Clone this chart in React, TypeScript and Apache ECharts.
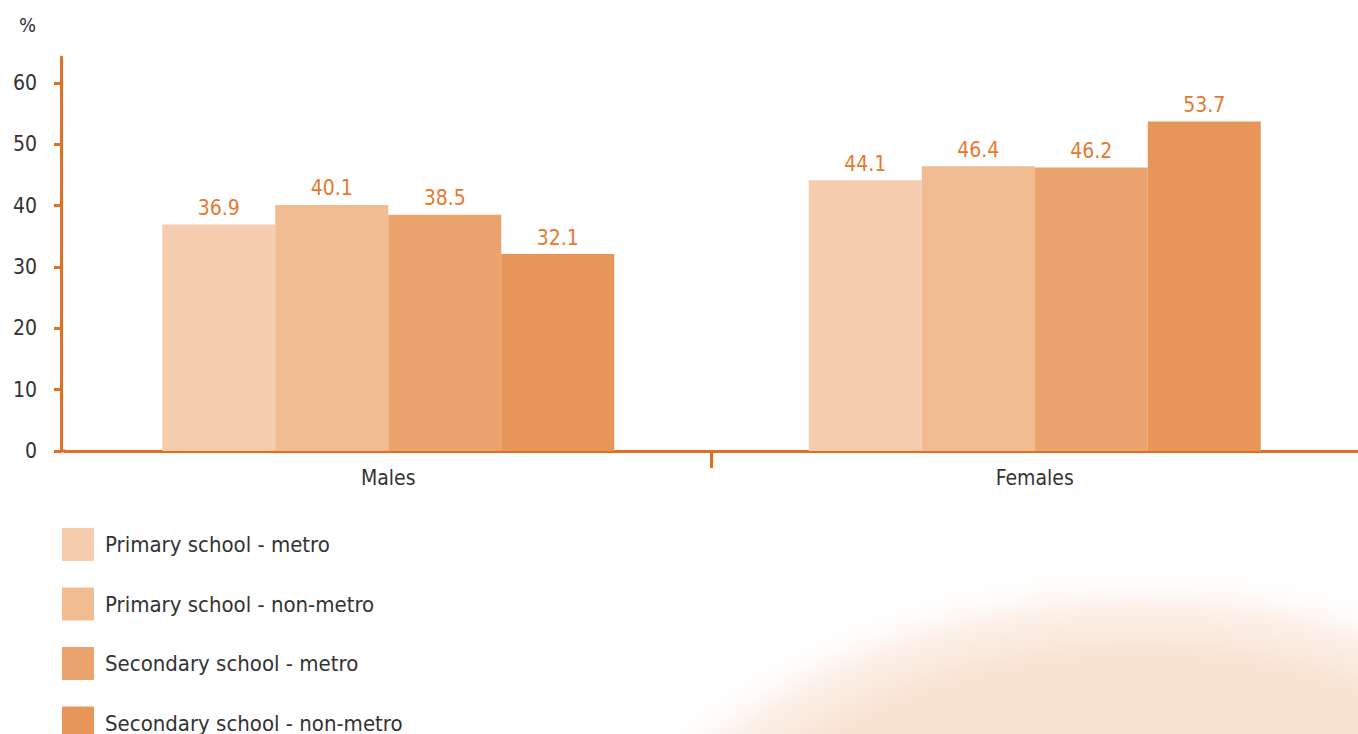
import React, { useEffect, useRef } from "react";
import * as echarts from "echarts";

const categories = ["Males", "Females"];
const seriesNames = [
  "Primary school - metro",
  "Primary school - non-metro",
  "Secondary school - metro",
  "Secondary school - non-metro",
];
const primaryMetro = [36.9, 44.1];
const primaryNonMetro = [40.1, 46.4];
const secondaryMetro = [38.5, 46.2];
const secondaryNonMetro = [32.1, 53.7];
const yTicks = [0, 10, 20, 30, 40, 50, 60];

const colors = ["#F6CEAF", "#F2BC92", "#EBA46D", "#E8955A"];
const AXIS = "#E07020";
const FONT = "'Liberation Sans Narrow', 'DejaVu Sans Condensed', sans-serif";

export default function App() {
  const ref = useRef<HTMLDivElement>(null);
  useEffect(() => {
    document.body.style.margin = "0";
    const chart = echarts.init(ref.current!, null, { renderer: "svg" });
    const data = [primaryMetro, primaryNonMetro, secondaryMetro, secondaryNonMetro];
    chart.setOption({
      animation: false,
      textStyle: { fontFamily: FONT },
      title: {
        text: "%",
        left: 14,
        top: 10,
        textStyle: { fontFamily: FONT, fontSize: 20, fontWeight: "normal", color: "#333" },
      },
      graphic: [
        {
          type: "circle",
          z: -10,
          silent: true,
          x: 1140,
          y: 1050,
          scaleX: 1.3,
          shape: { cx: 0, cy: 0, r: 490 },
          style: {
            fill: {
              type: "radial",
              x: 0.5,
              y: 0.5,
              r: 0.5,
              colorStops: [
                { offset: 0, color: "#F7DECB" },
                { offset: 0.8, color: "#F8E2D2" },
                { offset: 0.9, color: "rgba(249,230,216,0.6)" },
                { offset: 1, color: "rgba(255,255,255,0)" },
              ],
            },
          },
        },
        {
          type: "line",
          z: 10,
          silent: true,
          shape: { x1: 60, y1: 451, x2: 66, y2: 451 },
          style: { stroke: AXIS, lineWidth: 3 },
        },
      ],
      legend: {
        orient: "vertical",
        left: 62,
        top: 528,
        padding: 0,
        height: 400,
        itemWidth: 32,
        itemHeight: 33,
        itemGap: 26.5,
        icon: "rect",
        textStyle: { fontFamily: FONT, fontSize: 22, color: "#333", padding: [0, 0, 0, 6] },
        data: seriesNames,
      },
      grid: { left: 65, right: -4, top: 57, bottom: 283, containLabel: false },
      xAxis: [
        {
          type: "category",
          data: categories,
          axisLine: { lineStyle: { color: AXIS, width: 3 } },
          axisTick: { show: false },
          axisLabel: { fontFamily: FONT, fontSize: 21, color: "#333", margin: 16 },
        },
        {
          type: "value",
          position: "bottom",
          min: 0,
          max: 2,
          axisLine: { show: false, onZero: false },
          splitLine: { show: false },
          axisLabel: { show: false },
          axisTick: { show: true, length: 17, customValues: [1], lineStyle: { color: AXIS, width: 3 } },
        },
      ],
      yAxis: {
        type: "value",
        min: 0,
        max: 64.2,
        offset: 4,
        splitLine: { show: false },
        axisLine: { show: true, onZero: false, lineStyle: { color: AXIS, width: 3 } },
        axisTick: { show: true, length: 7, customValues: yTicks, lineStyle: { color: AXIS, width: 3 } },
        axisLabel: { fontFamily: FONT, fontSize: 21, color: "#333", margin: 24, customValues: yTicks },
      },
      series: seriesNames.map((name, i) => ({
        name,
        type: "bar",
        xAxisIndex: 0,
        data: data[i],
        barWidth: 113,
        barGap: "0%",
        itemStyle: { color: colors[i] },
        label: {
          show: true,
          position: "top",
          distance: 6,
          fontFamily: FONT,
          fontSize: 21,
          color: "#E47A30",
          formatter: (p: any) => p.value.toFixed(1),
        },
      })),
    });
    return () => chart.dispose();
  }, []);
  return <div ref={ref} style={{ width: 1358, height: 734 }} />;
}
